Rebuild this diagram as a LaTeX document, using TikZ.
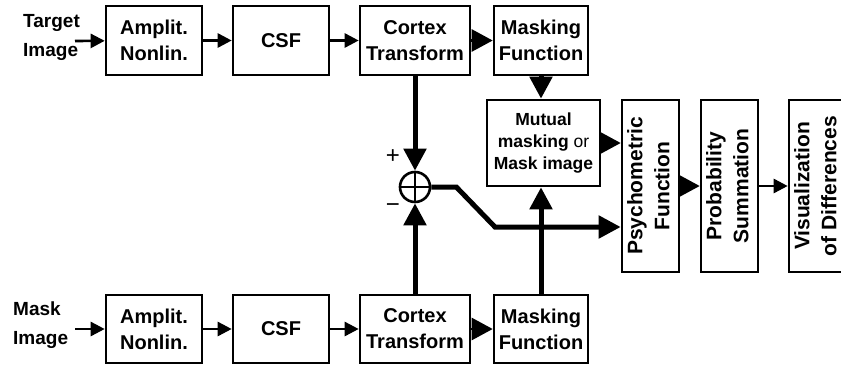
\documentclass[tikz,border=0pt]{standalone}
\usepackage{fontspec}
\setmainfont{Liberation Sans}
\usepackage{graphicx}
\usetikzlibrary{arrows.meta}

\newcommand{\vlab}[1]{\rotatebox{90}{\fontsize{21}{27}\selectfont\begin{tabular}{@{}c@{}}#1\end{tabular}}}

\begin{document}
\begin{tikzpicture}[x=1pt, y=-1pt,
    blk/.style={draw, line width=2.6pt, inner sep=0pt, align=center,
        font=\fontsize{20}{26}\selectfont\bfseries},
    lbl/.style={inner sep=0pt, align=left, anchor=west,
        font=\fontsize{19}{29.5}\selectfont\bfseries},
    sarr/.style={line width=2.6pt, -{Triangle[length=14pt,width=14pt]}},
    barr/.style={line width=2.6pt, -{Triangle[length=21pt,width=22pt]}},
    tarr/.style={line width=5pt, -{Triangle[length=22pt,width=22pt]}}]
    % --- 0. page ---
    \fill[white] (0,0) rectangle (841,367);
    \useasboundingbox (0,0) rectangle (841,367);

    % --- 1. target row ---
    \node[lbl] (TI) at (23,37.7) {Target\\Image};
    \coordinate (t1) at (75,41);
    \node[blk, minimum width=96pt, minimum height=69pt] (A1) at (154,40.5) {Amplit.\\Nonlin.};
    \node[blk, minimum width=96pt, minimum height=69pt] (C1) at (281,40.5) {CSF};
    \node[blk, minimum width=110pt, minimum height=69pt] (X1) at (415,40.5) {Cortex\\Transform};
    \node[blk, minimum width=94pt, minimum height=69pt] (F1) at (541,40.5) {Masking\\Function};

    % --- 2. mask row ---
    \node[lbl] (MI) at (13,325.2) {Mask\\Image};
    \coordinate (t2) at (75,329);
    \node[blk, minimum width=96pt, minimum height=68pt] (A2) at (154,329) {Amplit.\\Nonlin.};
    \node[blk, minimum width=96pt, minimum height=68pt] (C2) at (281,329) {CSF};
    \node[blk, minimum width=110pt, minimum height=68pt] (X2) at (415,329) {Cortex\\Transform};
    \node[blk, minimum width=94pt, minimum height=68pt] (F2) at (541,329) {Masking\\Function};

    % --- 3. middle: sum, mutual masking, output stages ---
    \node[draw, circle, line width=2.6pt, minimum size=30pt, inner sep=0pt] (S) at (415,187) {};
    \draw[line width=2pt] (S.north) -- (S.south) (S.west) -- (S.east);
    \node[font=\fontsize{24}{24}\selectfont] (pl) at (393,157) {+};
    \node[font=\fontsize{24}{24}\selectfont] (mi) at (393,208) {−};
    \coordinate (k) at (495,227);
    \node[blk, minimum width=113pt, minimum height=86pt,
        font=\fontsize{17.5}{22}\selectfont\bfseries] (M) at (543.5,143)
        {Mutual\\masking {\mdseries or}\\Mask image};
    \node[blk, minimum width=57pt, minimum height=172pt] (P) at (650.5,186) {\vlab{Psychometric\\Function}};
    \node[blk, minimum width=57pt, minimum height=172pt] (R) at (729.5,186) {\vlab{Probability\\Summation}};
    \node[blk, minimum width=57pt, minimum height=172pt] (V) at (817.5,186) {\vlab{Visualization\\of Differences}};

    % --- 4. connectors ---
    \draw[sarr] (t1) -- (A1);
    \draw[sarr] (A1) -- (C1);
    \draw[sarr] (C1) -- (X1);
    \draw[barr] (X1) -- (F1);
    \draw[sarr] (t2) -- (A2);
    \draw[sarr] (A2) -- (C2);
    \draw[sarr] (C2) -- (X2);
    \draw[barr] (X2) -- (F2);

    \draw[tarr] (X1) -- (S);
    \draw[tarr] (X2) -- (S);
    \draw[tarr] (F1.south) -- (F1.south |- M.north);
    \draw[tarr] (F2.north) -- (F2.north |- M.south);
    \draw[tarr] (S.east) -- ++(25,0) -- (k) -- (k -| P.west);
    \draw[barr] (M.east) -- (M.east -| P.west);
    \draw[barr] (P) -- (R);
    \draw[sarr] (R) -- (V);
\end{tikzpicture}
\end{document}
